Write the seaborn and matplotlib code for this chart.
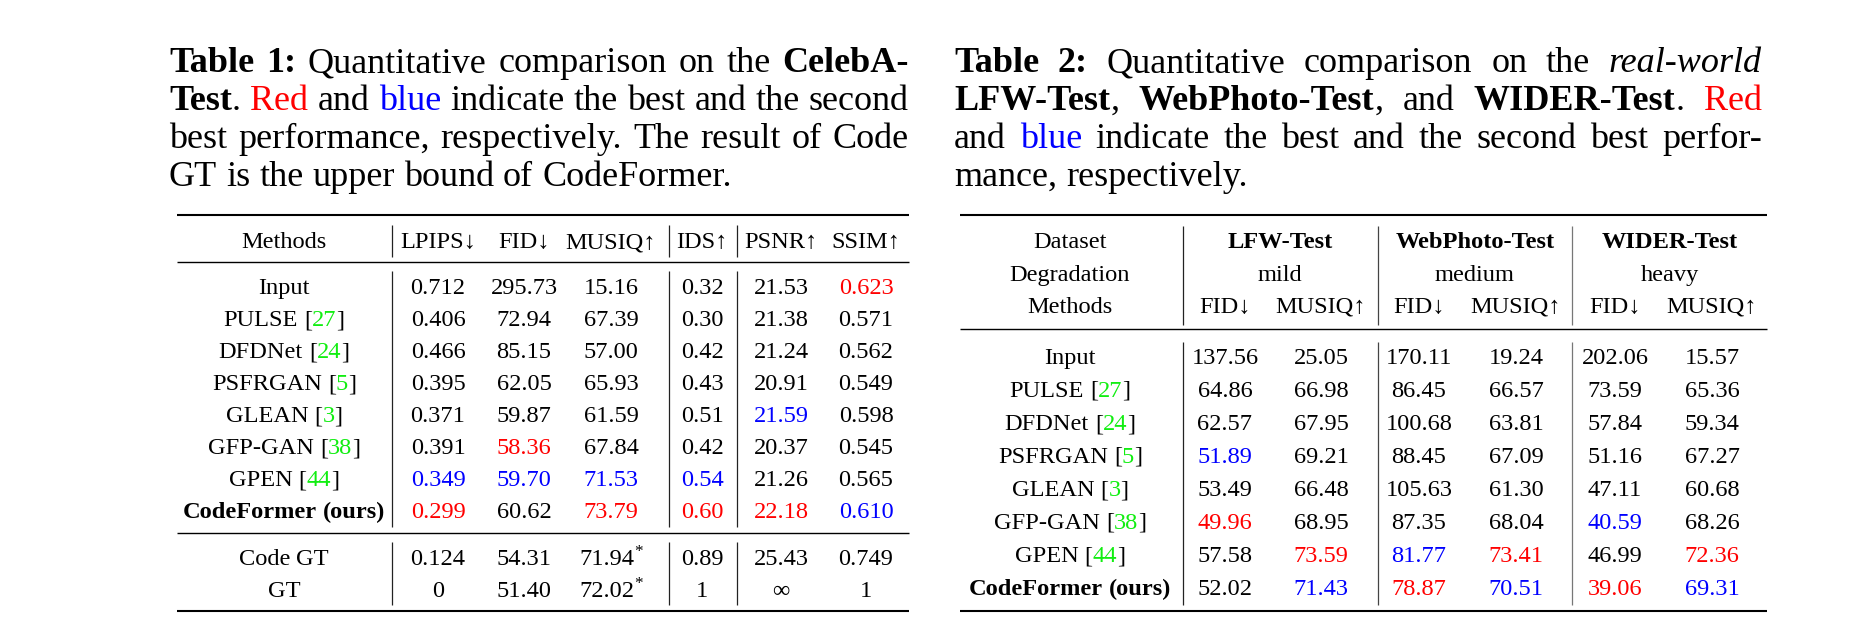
import numpy as np
import pandas as pd
import seaborn as sns
import matplotlib.pyplot as plt

# ---- Table 1: CelebA-Test ----
t1_methods = ['Input', 'PULSE', 'DFDNet', 'PSFRGAN', 'GLEAN', 'GFP-GAN', 'GPEN', 'CodeFormer (ours)']
t1_refs = ['', '27', '24', '5', '3', '38', '44', '']
t1_lpips = [0.712, 0.406, 0.466, 0.395, 0.371, 0.391, 0.349, 0.299]
t1_fid = [295.73, 72.94, 85.15, 62.05, 59.87, 58.36, 59.70, 60.62]
t1_musiq = [15.16, 67.39, 57.00, 65.93, 61.59, 67.84, 71.53, 73.79]
t1_ids = [0.32, 0.30, 0.42, 0.43, 0.51, 0.42, 0.54, 0.60]
t1_psnr = [21.53, 21.38, 21.24, 20.91, 21.59, 20.37, 21.26, 22.18]
t1_ssim = [0.623, 0.571, 0.562, 0.549, 0.598, 0.545, 0.565, 0.610]
t1_headers = ['Methods', 'LPIPS↓', 'FID↓', 'MUSIQ↑', 'IDS↑', 'PSNR↑', 'SSIM↑']
t1_lower_better = [True, True, False, False, False, False]
t1_decimals = [3, 2, 2, 2, 2, 3]
# reference rows below the mid rule
t1_extra_methods = ['Code GT', 'GT']
t1_extra_vals = [['0.124', '54.31', '71.94*', '0.89', '25.43', '0.749'],
                 ['0', '51.40', '72.02*', '1', '∞', '1']]

# ---- Table 2: real-world test sets ----
t2_datasets = ['LFW-Test', 'WebPhoto-Test', 'WIDER-Test']
t2_degradation = ['mild', 'medium', 'heavy']
t2_methods = t1_methods
t2_refs = t1_refs
t2_lfw_fid = [137.56, 64.86, 62.57, 51.89, 53.49, 49.96, 57.58, 52.02]
t2_lfw_musiq = [25.05, 66.98, 67.95, 69.21, 66.48, 68.95, 73.59, 71.43]
t2_web_fid = [170.11, 86.45, 100.68, 88.45, 105.63, 87.35, 81.77, 78.87]
t2_web_musiq = [19.24, 66.57, 63.81, 67.09, 61.30, 68.04, 73.41, 70.51]
t2_wider_fid = [202.06, 73.59, 57.84, 51.16, 47.11, 40.59, 46.99, 39.06]
t2_wider_musiq = [15.57, 65.36, 59.34, 67.27, 60.68, 68.26, 72.36, 69.31]
t2_metrics = ['FID↓', 'MUSIQ↑']

RED, BLUE, GREEN, BLACK = '#ff0000', '#0000ff', '#11ee11', '#000000'
STY = {
    'n': dict(color=BLACK),
    'b': dict(color=BLACK, fontweight='bold'),
    'i': dict(color=BLACK, fontstyle='italic'),
    'r': dict(color=RED),
    'bl': dict(color=BLUE),
    'g': dict(color=GREEN),
}

sns.set_theme(style='white')
plt.rcParams['font.family'] = ['Liberation Serif', 'DejaVu Serif']

W, H = 1863, 638
fig = plt.figure(figsize=(W / 100, H / 100), dpi=100)
fig.patch.set_facecolor('white')
ax = fig.add_axes([0, 0, 1, 1])
ax.set_xlim(0, W)
ax.set_ylim(H, 0)
ax.axis('off')
renderer = fig.canvas.get_renderer()


def adv(text, fmt, size):
    # advance width of a string, measured between two bars
    a = ax.text(0, 0, '|' + text + '|', fontsize=size, **STY[fmt])
    b = ax.text(0, 0, '||', fontsize=size, **STY[fmt])
    w = a.get_window_extent(renderer).width - b.get_window_extent(renderer).width
    a.remove()
    b.remove()
    return w


def split_words(runs):
    words = [[]]
    for text, fmt in runs:
        parts = text.split(' ')
        for i, p in enumerate(parts):
            if i > 0 and words[-1]:
                words.append([])
            if p:
                words[-1].append((p, fmt))
    return [w for w in words if w]


def draw_line(x, y, runs, size, ha='left', justify_to=None):
    words = split_words(runs)
    wl = [[adv(p, f, size) for p, f in w] for w in words]
    tot = sum(sum(w) for w in wl)
    if justify_to and len(words) > 1:
        gap = (justify_to - tot) / (len(words) - 1)
    else:
        gap = adv(' ', 'n', size)
    full = tot + gap * (len(words) - 1)
    x0 = x - full / 2 if ha == 'center' else x
    for w, ws in zip(words, wl):
        for (p, f), pw in zip(w, ws):
            ax.text(x0, y, p, fontsize=size, va='baseline', ha='left', **STY[f])
            x0 += pw
        x0 += gap


def draw_value(x, y, s, size, color=BLACK):
    if s.endswith('*'):
        s = s[:-1]
        w1 = adv(s, 'n', size)
        w2 = adv('*', 'n', size * 0.7)
        x0 = x - (w1 + w2) / 2
        ax.text(x0, y, s, fontsize=size, va='baseline', ha='left', color=color)
        ax.text(x0 + w1, y - size * 0.5, '*', fontsize=size * 0.7, va='baseline', ha='left', color=color)
    else:
        ax.text(x, y, s, fontsize=size, va='baseline', ha='center', color=color)


def method_runs(name, ref):
    if name.startswith('CodeFormer'):
        return [(name, 'b')]
    if ref:
        return [(name + ' [', 'n'), (ref, 'g'), (']', 'n')]
    return [(name, 'n')]


def rank_colors(vals, lower_better):
    vals = np.array(vals)
    order = np.argsort(vals) if lower_better else np.argsort(-vals)
    cols = [BLACK] * len(vals)
    cols[order[0]] = RED
    cols[order[1]] = BLUE
    return cols


CAP = 26
TXT = 17.6
cap_base = [72, 110, 148, 186]

# ---- captions ----
cap1 = [
    [('Table 1:', 'b'), (' Quantitative comparison on the ', 'n'), ('CelebA-', 'b')],
    [('Test', 'b'), ('. ', 'n'), ('Red', 'r'), (' and ', 'n'), ('blue', 'bl'),
     (' indicate the best and the second', 'n')],
    [('best performance, respectively. The result of Code', 'n')],
    [('GT is the upper bound of CodeFormer.', 'n')],
]
cap2 = [
    [('Table 2:', 'b'), (' Quantitative comparison on the ', 'n'), ('real-world', 'i')],
    [('LFW-Test', 'b'), (', ', 'n'), ('WebPhoto-Test', 'b'), (', and ', 'n'),
     ('WIDER-Test', 'b'), ('. ', 'n'), ('Red', 'r')],
    [('and ', 'n'), ('blue', 'bl'), (' indicate the best and the second best perfor-', 'n')],
    [('mance, respectively.', 'n')],
]
for i, runs in enumerate(cap1):
    draw_line(169, cap_base[i], runs, CAP, justify_to=(909 - 169) if i < 3 else None)
for i, runs in enumerate(cap2):
    draw_line(954, cap_base[i], runs, CAP, justify_to=(1762 - 954) if i < 3 else None)

# ---- table 1 ----
t1 = pd.DataFrame({'LPIPS': t1_lpips, 'FID': t1_fid, 'MUSIQ': t1_musiq,
                   'IDS': t1_ids, 'PSNR': t1_psnr, 'SSIM': t1_ssim})
t1_x = [284, 438, 524, 611, 702, 781, 866]
x_l, x_r = 177, 909
ax.hlines([215, 611], x_l, x_r, color=BLACK, lw=1.5)
ax.hlines([262, 533], x_l, x_r, color=BLACK, lw=1.0)
for xv in [392, 669, 737]:
    for y0, y1 in [(225, 257), (271, 527), (542, 605)]:
        ax.vlines(xv, y0, y1, color='#222222', lw=0.9)

for x, h in zip(t1_x, t1_headers):
    draw_line(x, 248, [(h, 'n')], TXT, ha='center')

for j, col in enumerate(t1.columns):
    cols = rank_colors(t1[col].values, t1_lower_better[j])
    for i, v in enumerate(t1[col].values):
        draw_value(t1_x[j + 1], 294 + 32 * i, f'{v:.{t1_decimals[j]}f}', TXT, cols[i])
for i, (m, r) in enumerate(zip(t1_methods, t1_refs)):
    draw_line(t1_x[0], 294 + 32 * i, method_runs(m, r), TXT, ha='center')

for k, (m, vals) in enumerate(zip(t1_extra_methods, t1_extra_vals)):
    y = 565 + 32 * k
    draw_line(t1_x[0], y, [(m, 'n')], TXT, ha='center')
    for j, s in enumerate(vals):
        draw_value(t1_x[j + 1], y, s, TXT)

# ---- table 2 ----
t2_cols = [t2_lfw_fid, t2_lfw_musiq, t2_web_fid, t2_web_musiq, t2_wider_fid, t2_wider_musiq]
t2_x = [1070, 1225, 1321, 1419, 1516, 1615, 1712]
t2_group_x = [1280, 1475, 1670]
x_l2, x_r2 = 960, 1767
ax.hlines([215, 611], x_l2, x_r2, color=BLACK, lw=1.5)
ax.hlines([329], x_l2, x_r2, color=BLACK, lw=1.0)
for xv, c in zip([1183, 1378, 1572], ['#222222', '#444444', '#777777']):
    for y0, y1 in [(226, 325), (342, 605)]:
        ax.vlines(xv, y0, y1, color=c, lw=0.9)

draw_line(t2_x[0], 248, [('Dataset', 'n')], TXT, ha='center')
draw_line(t2_x[0], 281, [('Degradation', 'n')], TXT, ha='center')
draw_line(t2_x[0], 313, [('Methods', 'n')], TXT, ha='center')
for gx, d, g in zip(t2_group_x, t2_datasets, t2_degradation):
    draw_line(gx, 248, [(d, 'b')], TXT, ha='center')
    draw_line(gx, 281, [(g, 'n')], TXT, ha='center')
for j in range(6):
    draw_line(t2_x[j + 1], 313, [(t2_metrics[j % 2], 'n')], TXT, ha='center')

for j, vals in enumerate(t2_cols):
    cols = rank_colors(vals, j % 2 == 0)
    for i, v in enumerate(vals):
        draw_value(t2_x[j + 1], 364 + 33 * i, f'{v:.2f}', TXT, cols[i])
for i, (m, r) in enumerate(zip(t2_methods, t2_refs)):
    draw_line(t2_x[0], 364 + 33 * i, method_runs(m, r), TXT, ha='center')

fig.savefig('out.png', dpi=100, facecolor='white')
